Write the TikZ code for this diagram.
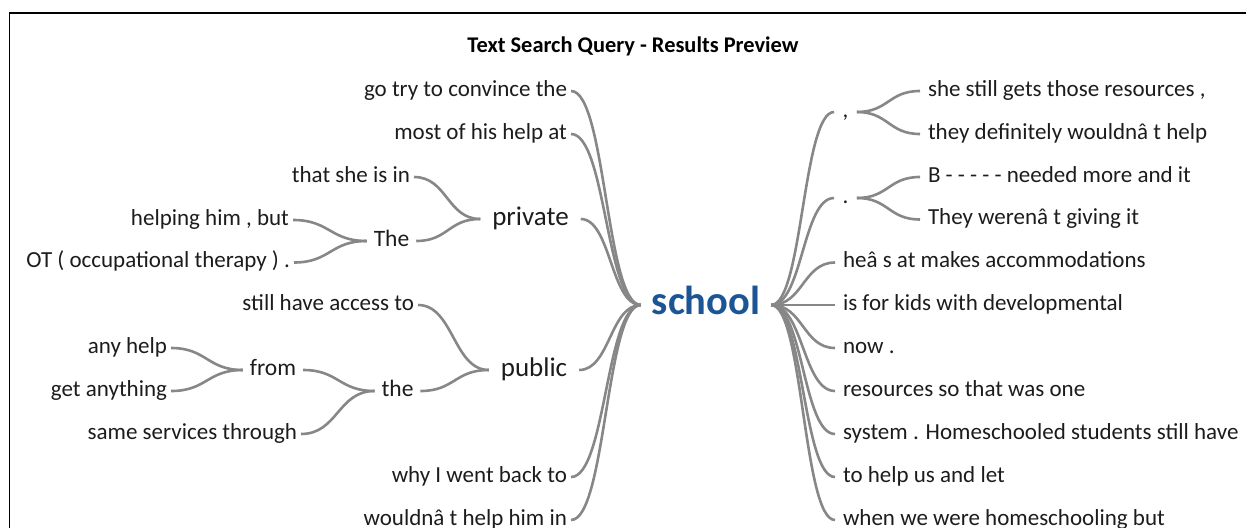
\documentclass[tikz,border=0pt]{standalone}
\usepackage{fontspec}
\setmainfont{Carlito}
\usetikzlibrary{calc}

\definecolor{linkgray}{RGB}{135,135,135}
\definecolor{keyblue}{RGB}{28,85,150}
\definecolor{ink}{RGB}{28,28,28}

% horizontal-tangent link from the right side of #1 to the left side of #2
\newcommand\twig[2]{%
  \draw[link] let \p1=(#1.east), \p2=(#2.west) in
    (\p1) .. controls ({(\x1+\x2)/2},\y1) and ({(\x1+\x2)/2},\y2) .. (\p2);}

\begin{document}
\begin{tikzpicture}[x=1pt,y=-1pt,
  every node/.style={inner ysep=0pt, outer sep=0pt, text=ink},
  leafL/.style={font=\fontsize{23}{23}\selectfont, text height=17.25pt, text depth=6.53pt, inner xsep=4pt, anchor=east},
  leafR/.style={font=\fontsize{23}{23}\selectfont, text height=17.25pt, text depth=6.53pt, inner xsep=8pt, anchor=west},
  inner/.style={font=\fontsize{23.5}{23.5}\selectfont, text height=17.6pt, text depth=6.7pt, inner xsep=7pt},
  punct/.style={font=\fontsize{23}{23}\selectfont, text height=17.25pt, text depth=6.53pt, inner xsep=8.5pt},
  hub/.style={font=\fontsize{27}{27}\selectfont, text height=20.25pt, text depth=7.7pt, inner xsep=12pt},
  root/.style={font=\fontsize{40.5}{40.5}\selectfont\bfseries, text=keyblue, text height=30.4pt, text depth=11.5pt, inner xsep=11pt},
  link/.style={draw=linkgray, line width=2.6pt}
]
\useasboundingbox (0,0) rectangle (1246,527);

% frame
\draw[line width=1.6pt, line join=miter] (9.5,540) -- (9.5,13.3) -- (1260,13.3);

% title
\node[font=\fontsize{22.4}{22.4}\selectfont\bfseries, text=black, text height=16.8pt, text depth=6.4pt] (title) at (633,47.5) {Text Search Query - Results Preview};

% root
\node[root] (school) at (706,305) {school};

% left side
\node[leafL] (L1) at (571,91) {go try to convince the};
\node[leafL] (L2) at (571,134) {most of his help at};
\node[hub] (private) at (530.5,219) {private};
\node[leafL] (L3) at (414,177) {that she is in};
\node[inner] (The) at (391.5,241) {The};
\node[leafL] (L4) at (293,220) {helping him , but};
\node[leafL] (L5) at (294,262.5) {OT ( occupational therapy ) .};
\node[hub] (public) at (534,370) {public};
\node[leafL] (L6) at (418,305) {still have access to};
\node[inner] (the) at (397.5,391) {the};
\node[inner] (from) at (273,370) {from};
\node[leafL] (L7) at (171,348) {any help};
\node[leafL] (L8) at (171,391) {get anything};
\node[leafL] (L9) at (301,434) {same services through};
\node[leafL] (L10) at (571,477) {why I went back to};
\node[leafL] (L11) at (571,520) {wouldnâ t help him in};

% right side
\node[punct] (comma) at (845.5,112) {,};
\node[punct] (period) at (845.5,198) {.};
\node[leafR] (R1) at (920,91) {she still gets those resources ,};
\node[leafR] (R2) at (920,134) {they definitely wouldnâ t help};
\node[leafR] (R3) at (920,177) {B - - - - - needed more and it};
\node[leafR] (R4) at (920,219.5) {They werenâ t giving it};
\node[leafR] (R5) at (835,262.5) {heâ s at makes accommodations};
\node[leafR] (R6) at (835,305) {is for kids with developmental};
\node[leafR] (R7) at (835,348) {now .};
\node[leafR] (R8) at (835,391) {resources so that was one};
\node[leafR] (R9) at (835,434) {system . Homeschooled students still have};
\node[leafR] (R10) at (835,477) {to help us and let};
\node[leafR] (R11) at (835,520) {when we were homeschooling but};

% links, left half
\twig{L1}{school}
\twig{L2}{school}
\twig{private}{school}
\twig{public}{school}
\twig{L10}{school}
\twig{L11}{school}
\twig{L3}{private}
\twig{The}{private}
\twig{L4}{The}
\twig{L5}{The}
\twig{L6}{public}
\twig{the}{public}
\twig{from}{the}
\twig{L9}{the}
\twig{L7}{from}
\twig{L8}{from}

% links, right half
\twig{school}{comma}
\twig{school}{period}
\twig{school}{R5}
\twig{school}{R6}
\twig{school}{R7}
\twig{school}{R8}
\twig{school}{R9}
\twig{school}{R10}
\twig{school}{R11}
\twig{comma}{R1}
\twig{comma}{R2}
\twig{period}{R3}
\twig{period}{R4}
\end{tikzpicture}
\end{document}
